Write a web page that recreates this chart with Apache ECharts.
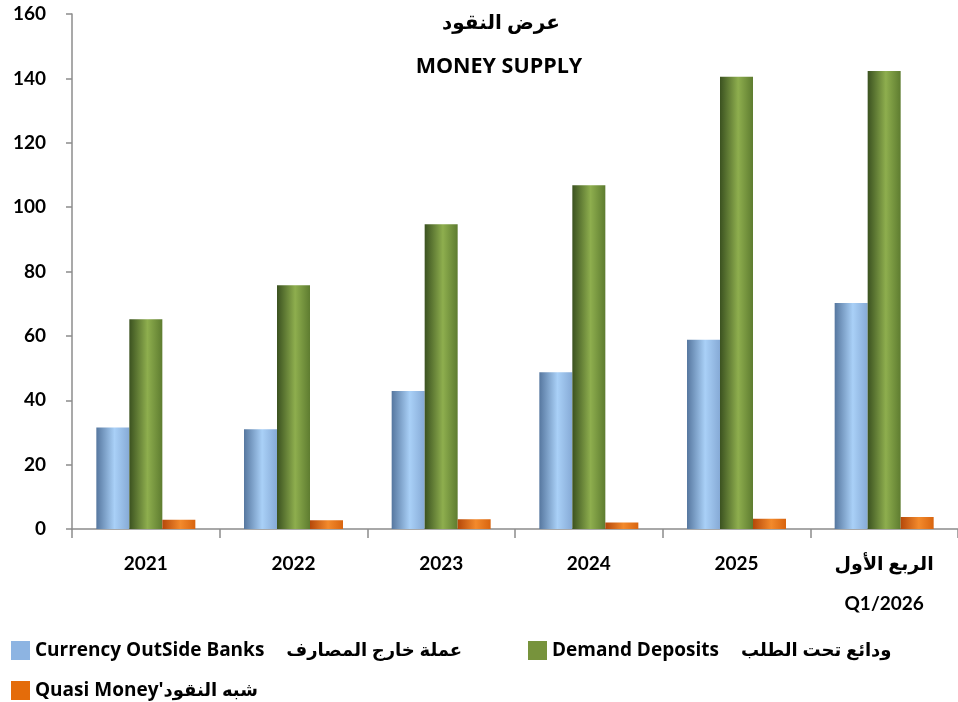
<!DOCTYPE html>
<html>
<head>
<meta charset="utf-8">
<script src="https://cdn.jsdelivr.net/npm/echarts@6/dist/echarts.min.js"></script>
<style>
  html, body { margin: 0; padding: 0; background: #fff; }
  #main { width: 958px; height: 702px; }
</style>
</head>
<body>
<div id="main"></div>
<script>
// data
var categories = ['2021', '2022', '2023', '2024', '2025', 'الربع الأول\nQ1/2026'];
var currencyOutside = [31.5, 31.0, 42.9, 48.7, 58.8, 70.2];
var demandDeposits = [65.2, 75.7, 94.7, 106.8, 140.5, 142.3];
var quasiMoney = [2.9, 2.7, 3.0, 2.0, 3.2, 3.7];

var namesEn = ['Currency OutSide Banks', 'Demand Deposits', "Quasi Money'"];
var namesAr = ['عملة خارج المصارف', 'ودائع تحت الطلب', 'شبه النقود'];
var flatColors = ['#8db4e2', '#77933c', '#e46c0a'];

var names = namesEn.map(function (n, i) { return n + '|' + namesAr[i]; });

var chart = echarts.init(document.getElementById('main'));

function cyl(dark, light, mid) {
    return new echarts.graphic.LinearGradient(0, 0, 1, 0, [
        {offset: 0, color: dark},
        {offset: 0.55, color: light},
        {offset: 1, color: mid}
    ]);
}

var font = 'Lato, "Open Sans", "DejaVu Sans", sans-serif';
var wideFont = '"Open Sans", Lato, "DejaVu Sans", sans-serif';

function legendAt(i, left, top, gap) {
    return {
        data: [{name: names[i], itemStyle: {color: flatColors[i]}}],
        left: left,
        top: top,
        icon: 'rect',
        itemWidth: 19,
        itemHeight: 19,
        itemGap: 10,
        selectedMode: false,
        formatter: function (n) {
            var p = n.split('|');
            return '{en|' + p[0] + '}{gap|}{ar|' + p[1] + '}';
        },
        textStyle: {
            color: '#000',
            rich: {
                en: {fontFamily: wideFont, fontWeight: 'bold', fontSize: 19, color: '#000'},
                gap: {width: gap},
                ar: {fontFamily: wideFont, fontWeight: 'bold', fontSize: 18, color: '#000'}
            }
        }
    };
}

var option = {
    animation: false,
    backgroundColor: '#fff',
    title: [
        {
            text: 'عرض النقود',
            left: 496, top: 8, textAlign: 'center',
            textStyle: {fontFamily: wideFont, fontWeight: 'bold', fontSize: 20, color: '#000'}
        },
        {
            text: 'MONEY SUPPLY',
            left: 494, top: 51, textAlign: 'center',
            textStyle: {fontFamily: wideFont, fontWeight: 'bold', fontSize: 21.5, color: '#000'}
        }
    ],
    legend: [
        legendAt(0, 6, 636, 22),
        legendAt(1, 523, 636, 22),
        legendAt(2, 6, 676, 0)
    ],
    grid: {left: 72, right: 0, top: 14, bottom: 173, containLabel: false},
    xAxis: {
        type: 'category',
        data: categories,
        axisLine: {lineStyle: {color: '#8c8c8c', width: 1.5}},
        axisTick: {show: true, length: 9, lineStyle: {color: '#8c8c8c', width: 1.5}},
        axisLabel: {
            margin: 15, lineHeight: 40,
            fontFamily: font, fontWeight: 'bold', fontSize: 19, color: '#000'
        }
    },
    yAxis: {
        type: 'value',
        min: 0, max: 160, interval: 20,
        splitLine: {show: false},
        axisLine: {show: true, lineStyle: {color: '#8c8c8c', width: 1.5}},
        axisTick: {show: true, length: 6, lineStyle: {color: '#8c8c8c', width: 1.5}},
        axisLabel: {margin: 26, fontFamily: font, fontWeight: 'bold', fontSize: 19, color: '#000'}
    },
    series: [
        {
            name: names[0], type: 'bar', data: currencyOutside,
            barWidth: 33, barGap: '0%',
            itemStyle: {color: cyl('#56779f', '#a9d0f7', '#86aad6')}
        },
        {
            name: names[1], type: 'bar', data: demandDeposits,
            barWidth: 33, barGap: '0%',
            itemStyle: {color: cyl('#3b5220', '#8eae4e', '#5e7c30')}
        },
        {
            name: names[2], type: 'bar', data: quasiMoney,
            barWidth: 33, barGap: '0%',
            itemStyle: {color: cyl('#b5480a', '#f38a2c', '#d8640f')}
        }
    ]
};

chart.setOption(option);
</script>
</body>
</html>
